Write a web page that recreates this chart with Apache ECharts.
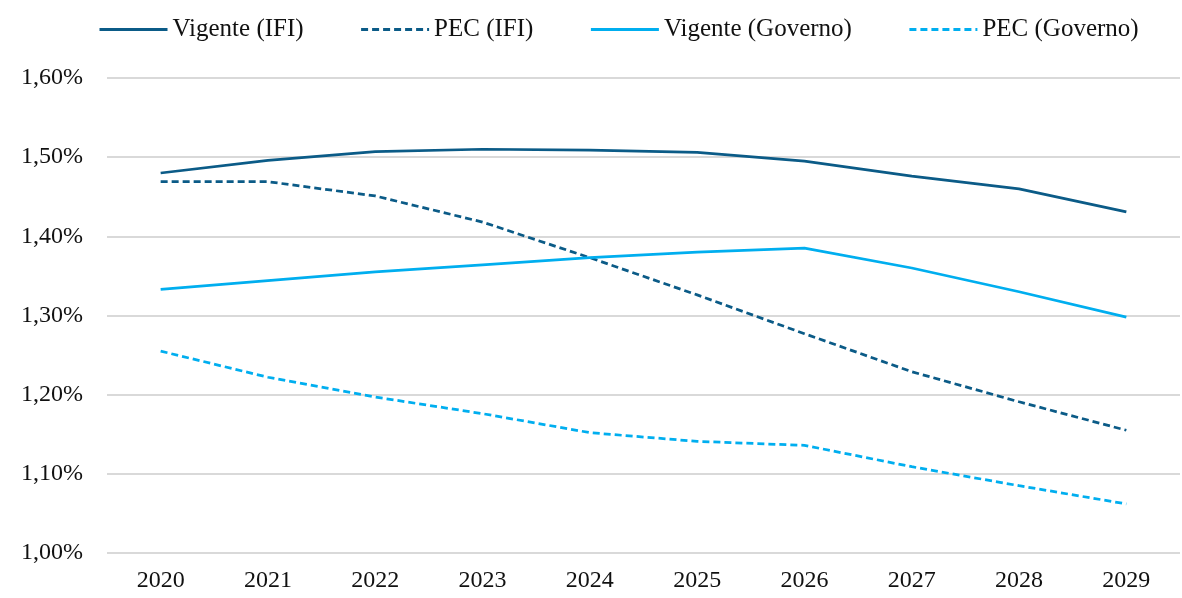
<!DOCTYPE html>
<html>
<head>
<meta charset="utf-8">
<script src="https://cdn.jsdelivr.net/npm/echarts@6/dist/echarts.min.js"></script>
<style>
  html, body { margin: 0; padding: 0; background: #fff; }
  #chart { width: 1182px; height: 598px; }
</style>
</head>
<body>
<div id="chart"></div>
<script>
var years = ['2020', '2021', '2022', '2023', '2024', '2025', '2026', '2027', '2028', '2029'];
var vigenteIfi = [1.480, 1.496, 1.507, 1.510, 1.509, 1.506, 1.495, 1.476, 1.460, 1.431];
var pecIfi = [1.469, 1.469, 1.451, 1.418, 1.373, 1.326, 1.277, 1.229, 1.191, 1.155];
var vigenteGov = [1.333, 1.344, 1.355, 1.364, 1.373, 1.380, 1.385, 1.360, 1.330, 1.298];
var pecGov = [1.255, 1.222, 1.197, 1.176, 1.152, 1.141, 1.136, 1.109, 1.085, 1.062];

var dark = '#0b5b87';
var light = '#00aeef';
var font = '"Liberation Serif", "DejaVu Serif", serif';

function mkLine(name, data, color, dashed) {
    return {
        name: name,
        type: 'line',
        data: data,
        symbol: 'none',
        smooth: false,
        lineStyle: {
            color: color,
            width: 2.75,
            type: dashed ? [7, 4] : 'solid'
        },
        itemStyle: { color: color }
    };
}

var dom = document.getElementById('chart');
var myChart = echarts.init(dom);
var option = {
    backgroundColor: '#fff',
    animation: false,
    textStyle: { fontFamily: font },
    legend: {
        show: true,
        top: 12,
        left: 93,
        itemWidth: 68,
        itemHeight: 14,
        itemGap: 56,
        itemStyle: { opacity: 0 },
        lineStyle: { width: 3 },
        textStyle: { fontFamily: font, fontSize: 25, color: '#111' },
        data: ['Vigente (IFI)', 'PEC (IFI)', 'Vigente (Governo)', 'PEC (Governo)']
    },
    grid: {
        left: 107,
        right: 2,
        top: 78,
        bottom: 45,
        containLabel: false
    },
    xAxis: {
        type: 'category',
        data: years,
        boundaryGap: true,
        axisLine: { show: false },
        axisTick: { show: false },
        axisLabel: { fontFamily: font, fontSize: 24, color: '#111', margin: 16 }
    },
    yAxis: {
        type: 'value',
        min: 1.0,
        max: 1.6,
        interval: 0.1,
        axisLine: { show: false },
        axisTick: { show: false },
        splitLine: { lineStyle: { color: '#d9d9d9', width: 2 } },
        axisLabel: {
            fontFamily: font,
            fontSize: 24,
            color: '#111',
            margin: 24,
            formatter: function (v) {
                return v.toFixed(2).replace('.', ',') + '%';
            }
        }
    },
    series: [
        mkLine('Vigente (IFI)', vigenteIfi, dark, false),
        mkLine('PEC (IFI)', pecIfi, dark, true),
        mkLine('Vigente (Governo)', vigenteGov, light, false),
        mkLine('PEC (Governo)', pecGov, light, true)
    ]
};
myChart.setOption(option, true);
</script>
</body>
</html>
